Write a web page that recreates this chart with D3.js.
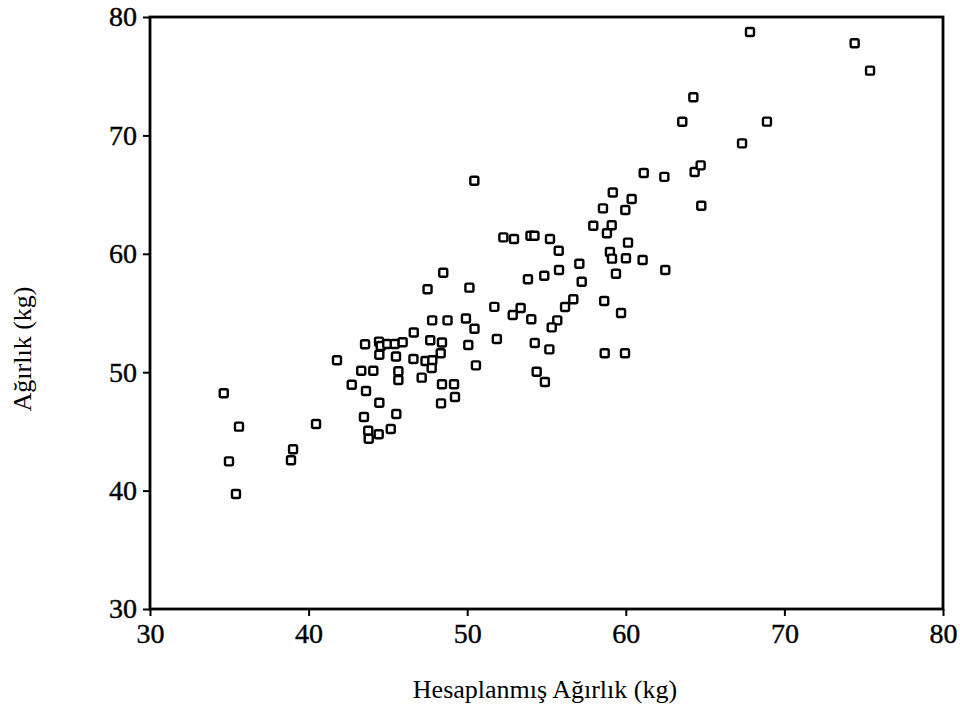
<!DOCTYPE html>
<html>
<head>
<meta charset="utf-8">
<script src="https://cdn.jsdelivr.net/npm/d3@7"></script>
<style>
  body { margin: 0; background: #fff; }
  svg text { font-family: "Liberation Serif", "Times New Roman", serif; fill: #000; }
</style>
</head>
<body>
<svg id="chart" width="960" height="714"></svg>
<script>
const calcWeight = [
  34.65, 35.61, 34.98, 35.42, 40.47, 39.02, 38.89, 41.79, 42.72, 43.32,
  44.08, 43.62, 43.56, 44.44, 44.55, 44.96, 45.43, 45.93, 44.46, 45.51,
  45.66, 45.66, 44.46, 43.49, 45.53, 43.76, 43.79, 44.42, 45.18, 46.63,
  46.61, 47.37, 47.80, 47.76, 47.13, 48.41, 49.17, 49.23, 48.35, 48.33,
  47.67, 48.41, 50.07, 50.55, 47.79, 48.76, 49.92, 50.46, 51.87, 48.49,
  47.50, 50.14, 51.71, 53.37, 52.87, 54.04, 54.26, 54.38, 54.90, 53.83,
  54.86, 55.79, 57.07, 57.22, 52.28, 52.95, 53.99, 54.24, 55.22, 55.77,
  56.69, 56.17, 55.68, 55.33, 55.18, 58.64, 59.70, 58.67, 59.95, 59.38,
  59.00, 59.13, 60.01, 61.06, 62.49, 60.14, 57.95, 59.11, 58.81, 58.56,
  59.97, 59.18, 60.37, 61.13, 62.43, 64.34, 64.72, 64.76, 50.45, 64.26,
  63.56, 67.33, 68.90, 67.83, 74.43, 75.40
];
const weight = [
  48.22, 45.40, 42.47, 39.71, 45.63, 43.49, 42.56, 51.01, 48.94, 50.12,
  50.12, 48.41, 52.36, 52.58, 52.21, 52.38, 52.38, 52.53, 51.47, 51.33,
  50.08, 49.34, 47.42, 46.22, 46.47, 45.06, 44.38, 44.76, 45.20, 53.35,
  51.12, 50.95, 51.01, 50.35, 49.54, 48.98, 48.98, 47.91, 47.37, 51.60,
  52.70, 52.51, 52.30, 50.58, 54.38, 54.38, 54.54, 53.67, 52.80, 58.40,
  57.00, 57.14, 55.52, 55.42, 54.83, 54.47, 52.47, 50.04, 49.17, 57.85,
  58.15, 58.63, 59.16, 57.64, 61.39, 61.25, 61.53, 61.53, 61.25, 60.26,
  56.16, 55.51, 54.38, 53.79, 51.93, 56.01, 55.00, 51.60, 51.60, 58.32,
  60.15, 59.59, 59.62, 59.48, 58.63, 60.94, 62.37, 62.41, 61.73, 63.84,
  63.70, 65.18, 64.63, 66.82, 66.50, 66.91, 67.47, 64.06, 66.17, 73.22,
  71.15, 69.33, 71.16, 78.73, 77.78, 75.47
];
const xTicks = [30, 40, 50, 60, 70, 80];
const yTicks = [30, 40, 50, 60, 70, 80];
const xTitle = "Hesaplanmış Ağırlık (kg)";
const yTitle = "Ağırlık (kg)";

const svg = d3.select("#chart");
const plotLeft = 150, plotRight = 943, plotTop = 17, plotBottom = 609;

const x = d3.scaleLinear().domain([30, 80]).range([plotLeft, plotRight]);
const y = d3.scaleLinear().domain([30, 80]).range([plotBottom, plotTop]);

// frame
svg.append("rect")
  .attr("x", plotLeft).attr("y", plotTop)
  .attr("width", plotRight - plotLeft).attr("height", plotBottom - plotTop)
  .attr("fill", "none").attr("stroke", "#000").attr("stroke-width", 2.8);

// bottom axis
const xAxis = svg.append("g")
  .attr("transform", `translate(0,${plotBottom})`)
  .call(d3.axisBottom(x).tickValues(xTicks).tickSize(7).tickPadding(7).tickFormat(d3.format("d")));
xAxis.select(".domain").remove();
xAxis.selectAll("line").attr("stroke", "#000").attr("stroke-width", 2);
xAxis.selectAll("text")
  .attr("font-size", "28px").attr("font-family", "Liberation Serif")
  .attr("stroke", "#000").attr("stroke-width", 0.4);

// left axis
const yAxis = svg.append("g")
  .attr("transform", `translate(${plotLeft},0)`)
  .call(d3.axisLeft(y).tickValues(yTicks).tickSize(7).tickPadding(6).tickFormat(d3.format("d")));
yAxis.select(".domain").remove();
yAxis.selectAll("line").attr("stroke", "#000").attr("stroke-width", 2);
yAxis.selectAll("text")
  .attr("font-size", "28px").attr("font-family", "Liberation Serif")
  .attr("stroke", "#000").attr("stroke-width", 0.4);

// points
const s = 8;
svg.append("g")
  .selectAll("rect")
  .data(calcWeight.map((d, i) => [d, weight[i]]))
  .enter()
  .append("rect")
  .attr("x", d => x(d[0]) - s / 2)
  .attr("y", d => y(d[1]) - s / 2)
  .attr("width", s).attr("height", s)
  .attr("rx", 1.5)
  .attr("fill", "#fff")
  .attr("stroke", "#000")
  .attr("stroke-width", 2.4);

// titles
svg.append("text")
  .attr("x", 545).attr("y", 698)
  .attr("text-anchor", "middle")
  .attr("font-size", "26px")
  .text(xTitle);

svg.append("text")
  .attr("transform", "translate(31,349) rotate(-90)")
  .attr("text-anchor", "middle")
  .attr("font-size", "26px")
  .text(yTitle);
</script>
</body>
</html>
